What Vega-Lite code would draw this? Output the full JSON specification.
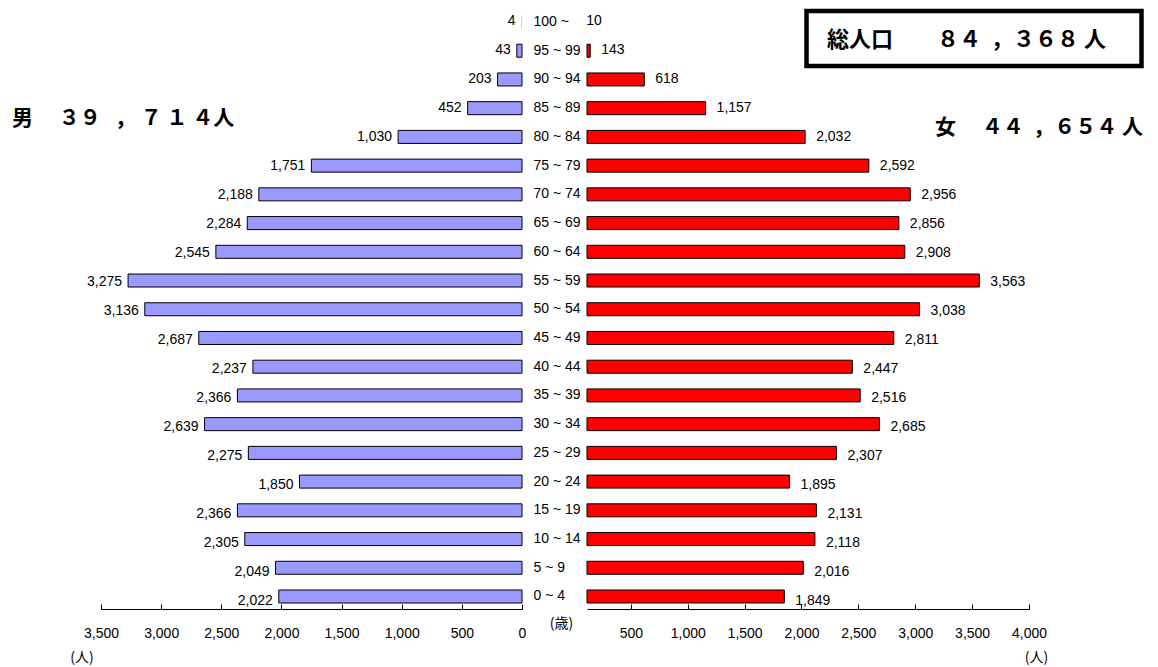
{
  "$schema": "https://vega.github.io/schema/vega-lite/v6.json",
  "width": 1158,
  "height": 609,
  "autosize": {"type": "none"},
  "padding": {"left": 0, "top": 0, "right": 0, "bottom": 58},
  "background": "white",
  "config": {
    "view": {"stroke": null},
    "axis": {"grid": false, "labelFont": "Liberation Sans", "labelFontSize": 14, "labelColor": "#000", "domainColor": "#000", "tickColor": "#000", "titleFont": "Noto Sans CJK JP", "titleFontSize": 14, "titleFontWeight": "normal", "titleColor": "#000", "labelFlush": false, "labelOverlap": false}
  },
  "datasets": {
    "pyramid": [
      {"age": "100 ~", "male": 4, "female": 10},
      {"age": "95 ~ 99", "male": 43, "female": 143},
      {"age": "90 ~ 94", "male": 203, "female": 618},
      {"age": "85 ~ 89", "male": 452, "female": 1157},
      {"age": "80 ~ 84", "male": 1030, "female": 2032},
      {"age": "75 ~ 79", "male": 1751, "female": 2592},
      {"age": "70 ~ 74", "male": 2188, "female": 2956},
      {"age": "65 ~ 69", "male": 2284, "female": 2856},
      {"age": "60 ~ 64", "male": 2545, "female": 2908},
      {"age": "55 ~ 59", "male": 3275, "female": 3563},
      {"age": "50 ~ 54", "male": 3136, "female": 3038},
      {"age": "45 ~ 49", "male": 2687, "female": 2811},
      {"age": "40 ~ 44", "male": 2237, "female": 2447},
      {"age": "35 ~ 39", "male": 2366, "female": 2516},
      {"age": "30 ~ 34", "male": 2639, "female": 2685},
      {"age": "25 ~ 29", "male": 2275, "female": 2307},
      {"age": "20 ~ 24", "male": 1850, "female": 1895},
      {"age": "15 ~ 19", "male": 2366, "female": 2131},
      {"age": "10 ~ 14", "male": 2305, "female": 2118},
      {"age": "5 ~ 9", "male": 2049, "female": 2016},
      {"age": "0 ~ 4", "male": 2022, "female": 1849}
    ],
    "notes": [
      {"key": "total", "label": "総人口　　８４\u00a0\u00a0，３６８\u00a0人"},
      {"key": "male", "label": "男　\u00a0３９\u00a0\u00a0\u00a0，\u00a0７\u00a0１\u00a0４人"},
      {"key": "female", "label": "女　\u00a0４４\u00a0\u00a0，６５４\u00a0人"}
    ]
  },
  "resolve": {"scale": {"x": "independent", "y": "independent"}, "axis": {"x": "independent", "y": "independent"}},
  "layer": [
    {
      "data": {"name": "pyramid"},
      "mark": {"type": "bar", "fill": "#9999FF", "stroke": "#000000"},
      "encoding": {
        "x": {"field": "male", "type": "quantitative", "scale": {"domain": [0, 3500], "range": [522, 101], "zero": false, "nice": false},
          "axis": {"orient": "bottom", "values": [0, 500, 1000, 1500, 2000, 2500, 3000, 3500], "format": ",d", "tickSize": -5, "labelPadding": 22, "title": "(人)", "titleX": 81.5, "titleY": 48, "titleAlign": "center", "titleBaseline": "middle"}},
        "x2": {"datum": 0},
        "strokeWidth": {"condition": {"test": "datum.male < 10", "value": 0}, "value": 1},
        "y": {"field": "age", "type": "nominal", "sort": null,
          "scale": {"domain": ["100 ~", "95 ~ 99", "90 ~ 94", "85 ~ 89", "80 ~ 84", "75 ~ 79", "70 ~ 74", "65 ~ 69", "60 ~ 64", "55 ~ 59", "50 ~ 54", "45 ~ 49", "40 ~ 44", "35 ~ 39", "30 ~ 34", "25 ~ 29", "20 ~ 24", "15 ~ 19", "10 ~ 14", "5 ~ 9", "0 ~ 4"], "paddingInner": 0.547, "paddingOuter": 0.374, "align": 0.721},
          "axis": {"orient": "left", "offset": -533, "ticks": false, "tickSize": 0, "domain": false, "labelAlign": "left", "labelPadding": 0, "labelBaseline": "middle", "title": "(歳)", "titleX": 28, "titleY": 623, "titleAngle": 0, "titleAlign": "center", "titleBaseline": "middle"}}
      }
    },
    {
      "data": {"name": "pyramid"},
      "mark": {"type": "text", "align": "right", "baseline": "middle", "dx": -6, "font": "Liberation Sans", "fontSize": 14, "color": "#000"},
      "encoding": {
        "x": {"field": "male", "type": "quantitative", "scale": {"domain": [0, 3500], "range": [522, 101], "zero": false, "nice": false}, "axis": null},
        "y": {"field": "age", "type": "nominal", "sort": null,
          "scale": {"domain": ["100 ~", "95 ~ 99", "90 ~ 94", "85 ~ 89", "80 ~ 84", "75 ~ 79", "70 ~ 74", "65 ~ 69", "60 ~ 64", "55 ~ 59", "50 ~ 54", "45 ~ 49", "40 ~ 44", "35 ~ 39", "30 ~ 34", "25 ~ 29", "20 ~ 24", "15 ~ 19", "10 ~ 14", "5 ~ 9", "0 ~ 4"], "paddingInner": 0.547, "paddingOuter": 0.374, "align": 0.721}, "axis": null},
        "text": {"field": "male", "type": "quantitative", "format": ","}
      }
    },
    {
      "data": {"name": "pyramid"},
      "mark": {"type": "bar", "fill": "#FF0000", "stroke": "#000000"},
      "encoding": {
        "x": {"field": "female", "type": "quantitative", "scale": {"domain": [114.3, 4000], "range": [587, 1029], "zero": false, "nice": false, "clamp": true},
          "axis": {"orient": "bottom", "values": [500, 1000, 1500, 2000, 2500, 3000, 3500, 4000], "format": ",d", "tickSize": -5, "labelPadding": 22, "title": "(人)", "titleX": 1036, "titleY": 48, "titleAlign": "center", "titleBaseline": "middle"}},
        "x2": {"datum": 0},
        "strokeWidth": {"condition": {"test": "datum.female < 115", "value": 0}, "value": 1},
        "y": {"field": "age", "type": "nominal", "sort": null,
          "scale": {"domain": ["100 ~", "95 ~ 99", "90 ~ 94", "85 ~ 89", "80 ~ 84", "75 ~ 79", "70 ~ 74", "65 ~ 69", "60 ~ 64", "55 ~ 59", "50 ~ 54", "45 ~ 49", "40 ~ 44", "35 ~ 39", "30 ~ 34", "25 ~ 29", "20 ~ 24", "15 ~ 19", "10 ~ 14", "5 ~ 9", "0 ~ 4"], "paddingInner": 0.547, "paddingOuter": 0.374, "align": 0.721}, "axis": null}
      }
    },
    {
      "data": {"name": "pyramid"},
      "mark": {"type": "text", "align": "left", "baseline": "middle", "dx": 11, "font": "Liberation Sans", "fontSize": 14, "color": "#000"},
      "encoding": {
        "x": {"field": "female", "type": "quantitative", "scale": {"domain": [114.3, 4000], "range": [587, 1029], "zero": false, "nice": false}, "axis": null},
        "y": {"field": "age", "type": "nominal", "sort": null,
          "scale": {"domain": ["100 ~", "95 ~ 99", "90 ~ 94", "85 ~ 89", "80 ~ 84", "75 ~ 79", "70 ~ 74", "65 ~ 69", "60 ~ 64", "55 ~ 59", "50 ~ 54", "45 ~ 49", "40 ~ 44", "35 ~ 39", "30 ~ 34", "25 ~ 29", "20 ~ 24", "15 ~ 19", "10 ~ 14", "5 ~ 9", "0 ~ 4"], "paddingInner": 0.547, "paddingOuter": 0.374, "align": 0.721}, "axis": null},
        "text": {"field": "female", "type": "quantitative", "format": ","}
      }
    },
    {
      "data": {"name": "notes"},
      "transform": [{"filter": "datum.key === 'total'"}],
      "mark": {"type": "rect", "fill": "#FFFFFF", "stroke": "#000000", "strokeWidth": 4.5},
      "encoding": {
        "x": {"datum": 2044, "type": "quantitative", "scale": {"domain": [114.3, 4000], "range": [587, 1029], "zero": false, "nice": false}, "axis": null},
        "x2": {"datum": 4989},
        "y": {"datum": -0.383, "type": "quantitative", "scale": {"domain": [0, 20], "range": [22, 596.5], "zero": false, "nice": false}, "axis": null},
        "y2": {"datum": 1.53}
      }
    },
    {
      "data": {"name": "notes"},
      "transform": [{"filter": "datum.key === 'total'"}],
      "mark": {"type": "text", "align": "left", "baseline": "middle", "font": "Noto Sans CJK JP", "fontSize": 22, "fontWeight": "bold", "color": "#000"},
      "encoding": {
        "x": {"datum": 2224, "type": "quantitative", "scale": {"domain": [114.3, 4000], "range": [587, 1029], "zero": false, "nice": false}, "axis": null},
        "y": {"datum": 0.62, "type": "quantitative", "scale": {"domain": [0, 20], "range": [22, 596.5], "zero": false, "nice": false}, "axis": null},
        "text": {"field": "label", "type": "nominal"}
      }
    },
    {
      "data": {"name": "notes"},
      "transform": [{"filter": "datum.key === 'male'"}],
      "mark": {"type": "text", "align": "left", "baseline": "middle", "font": "Noto Sans CJK JP", "fontSize": 21, "fontWeight": "bold", "color": "#000"},
      "encoding": {
        "x": {"datum": 4240, "type": "quantitative", "scale": {"domain": [0, 3500], "range": [522, 101], "zero": false, "nice": false}, "axis": null},
        "y": {"datum": 3.377, "type": "quantitative", "scale": {"domain": [0, 20], "range": [22, 596.5], "zero": false, "nice": false}, "axis": null},
        "text": {"field": "label", "type": "nominal"}
      }
    },
    {
      "data": {"name": "notes"},
      "transform": [{"filter": "datum.key === 'female'"}],
      "mark": {"type": "text", "align": "left", "baseline": "middle", "font": "Noto Sans CJK JP", "fontSize": 21, "fontWeight": "bold", "color": "#000"},
      "encoding": {
        "x": {"datum": 3173.6, "type": "quantitative", "scale": {"domain": [114.3, 4000], "range": [587, 1029], "zero": false, "nice": false}, "axis": null},
        "y": {"datum": 3.69, "type": "quantitative", "scale": {"domain": [0, 20], "range": [22, 596.5], "zero": false, "nice": false}, "axis": null},
        "text": {"field": "label", "type": "nominal"}
      }
    }
  ]
}
